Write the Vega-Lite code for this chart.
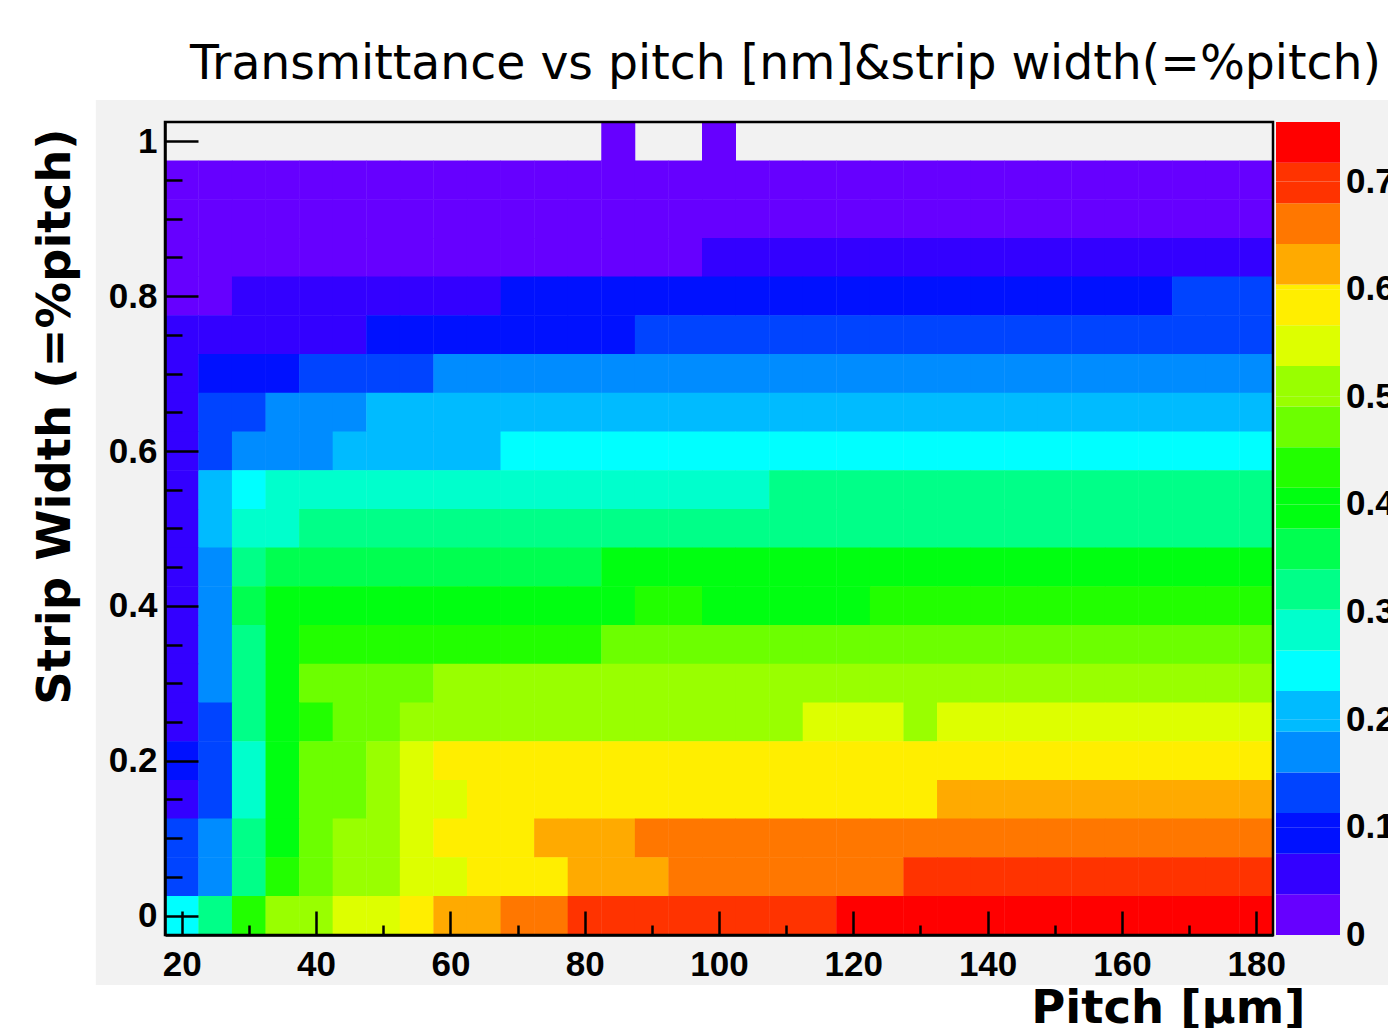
{
"$schema": "https://vega.github.io/schema/vega-lite/v6.json",
"width": 1108, "height": 813,
"autosize": {"type": "none"},
"padding": {"left": 165, "top": 122, "right": 115, "bottom": 93},
"background": "white",
"title": {"text": "Transmittance vs pitch [nm]&strip width(=%pitch)", "font": "DejaVu Sans", "fontSize": 47.3, "fontWeight": "normal", "color": "black", "anchor": "start", "frame": "group", "dx": 25, "offset": 11},
"config": {
  "view": {"stroke": null},
  "axis": {"domainColor": "black", "domainWidth": 2.5, "tickColor": "black", "tickWidth": 2.5, "grid": false, "labelColor": "black", "labelFont": "Liberation Sans", "labelFontWeight": "bold", "labelFlush": false, "labelBound": false, "labelOverlap": false, "titleColor": "black", "titleFont": "DejaVu Sans", "titleFontWeight": "bold", "titleFontSize": 46.5, "zindex": 1}
},
"layer": [
{"data": {"values": [{}]}, "mark": {"type": "rect", "color": "#f2f2f2", "clip": false},
 "encoding": {"x": {"datum": 7.2, "type": "quantitative"}, "x2": {"datum": 205}, "y": {"datum": -0.0895, "type": "quantitative"}, "y2": {"datum": 1.0534}}},
{"data": {"values": [
{"pitch":85,"width":1,"T":0.006},{"pitch":100,"width":1,"T":0.006},
{"pitch":20,"width":0.95,"T":0.012},{"pitch":25,"width":0.95,"T":0.012},{"pitch":30,"width":0.95,"T":0.012},{"pitch":35,"width":0.95,"T":0.012},{"pitch":40,"width":0.95,"T":0.012},{"pitch":45,"width":0.95,"T":0.012},{"pitch":50,"width":0.95,"T":0.012},{"pitch":55,"width":0.95,"T":0.012},{"pitch":60,"width":0.95,"T":0.012},{"pitch":65,"width":0.95,"T":0.012},{"pitch":70,"width":0.95,"T":0.012},{"pitch":75,"width":0.95,"T":0.012},{"pitch":80,"width":0.95,"T":0.012},{"pitch":85,"width":0.95,"T":0.012},{"pitch":90,"width":0.95,"T":0.012},{"pitch":95,"width":0.95,"T":0.012},{"pitch":100,"width":0.95,"T":0.012},{"pitch":105,"width":0.95,"T":0.012},{"pitch":110,"width":0.95,"T":0.012},{"pitch":115,"width":0.95,"T":0.012},{"pitch":120,"width":0.95,"T":0.012},{"pitch":125,"width":0.95,"T":0.012},{"pitch":130,"width":0.95,"T":0.012},{"pitch":135,"width":0.95,"T":0.012},{"pitch":140,"width":0.95,"T":0.012},{"pitch":145,"width":0.95,"T":0.012},{"pitch":150,"width":0.95,"T":0.012},{"pitch":155,"width":0.95,"T":0.012},{"pitch":160,"width":0.95,"T":0.012},{"pitch":165,"width":0.95,"T":0.012},{"pitch":170,"width":0.95,"T":0.012},{"pitch":175,"width":0.95,"T":0.012},{"pitch":180,"width":0.95,"T":0.012},
{"pitch":20,"width":0.9,"T":0.024},{"pitch":25,"width":0.9,"T":0.024},{"pitch":30,"width":0.9,"T":0.024},{"pitch":35,"width":0.9,"T":0.024},{"pitch":40,"width":0.9,"T":0.024},{"pitch":45,"width":0.9,"T":0.024},{"pitch":50,"width":0.9,"T":0.024},{"pitch":55,"width":0.9,"T":0.024},{"pitch":60,"width":0.9,"T":0.024},{"pitch":65,"width":0.9,"T":0.024},{"pitch":70,"width":0.9,"T":0.024},{"pitch":75,"width":0.9,"T":0.024},{"pitch":80,"width":0.9,"T":0.024},{"pitch":85,"width":0.9,"T":0.024},{"pitch":90,"width":0.9,"T":0.024},{"pitch":95,"width":0.9,"T":0.024},{"pitch":100,"width":0.9,"T":0.024},{"pitch":105,"width":0.9,"T":0.024},{"pitch":110,"width":0.9,"T":0.024},{"pitch":115,"width":0.9,"T":0.024},{"pitch":120,"width":0.9,"T":0.024},{"pitch":125,"width":0.9,"T":0.024},{"pitch":130,"width":0.9,"T":0.024},{"pitch":135,"width":0.9,"T":0.024},{"pitch":140,"width":0.9,"T":0.024},{"pitch":145,"width":0.9,"T":0.024},{"pitch":150,"width":0.9,"T":0.024},{"pitch":155,"width":0.9,"T":0.024},{"pitch":160,"width":0.9,"T":0.024},{"pitch":165,"width":0.9,"T":0.024},{"pitch":170,"width":0.9,"T":0.024},{"pitch":175,"width":0.9,"T":0.024},{"pitch":180,"width":0.9,"T":0.024},
{"pitch":20,"width":0.85,"T":0.033},{"pitch":25,"width":0.85,"T":0.033},{"pitch":30,"width":0.85,"T":0.033},{"pitch":35,"width":0.85,"T":0.033},{"pitch":40,"width":0.85,"T":0.033},{"pitch":45,"width":0.85,"T":0.033},{"pitch":50,"width":0.85,"T":0.033},{"pitch":55,"width":0.85,"T":0.033},{"pitch":60,"width":0.85,"T":0.033},{"pitch":65,"width":0.85,"T":0.033},{"pitch":70,"width":0.85,"T":0.033},{"pitch":75,"width":0.85,"T":0.033},{"pitch":80,"width":0.85,"T":0.033},{"pitch":85,"width":0.85,"T":0.033},{"pitch":90,"width":0.85,"T":0.033},{"pitch":95,"width":0.85,"T":0.033},{"pitch":100,"width":0.85,"T":0.045},{"pitch":105,"width":0.85,"T":0.045},{"pitch":110,"width":0.85,"T":0.045},{"pitch":115,"width":0.85,"T":0.045},{"pitch":120,"width":0.85,"T":0.045},{"pitch":125,"width":0.85,"T":0.045},{"pitch":130,"width":0.85,"T":0.045},{"pitch":135,"width":0.85,"T":0.045},{"pitch":140,"width":0.85,"T":0.045},{"pitch":145,"width":0.85,"T":0.045},{"pitch":150,"width":0.85,"T":0.045},{"pitch":155,"width":0.85,"T":0.045},{"pitch":160,"width":0.85,"T":0.045},{"pitch":165,"width":0.85,"T":0.045},{"pitch":170,"width":0.85,"T":0.045},{"pitch":175,"width":0.85,"T":0.045},{"pitch":180,"width":0.85,"T":0.045},
{"pitch":20,"width":0.8,"T":0.035},{"pitch":25,"width":0.8,"T":0.035},{"pitch":30,"width":0.8,"T":0.0567},{"pitch":35,"width":0.8,"T":0.0567},{"pitch":40,"width":0.8,"T":0.0567},{"pitch":45,"width":0.8,"T":0.0567},{"pitch":50,"width":0.8,"T":0.0567},{"pitch":55,"width":0.8,"T":0.0567},{"pitch":60,"width":0.8,"T":0.0567},{"pitch":65,"width":0.8,"T":0.0567},{"pitch":70,"width":0.8,"T":0.0944},{"pitch":75,"width":0.8,"T":0.0944},{"pitch":80,"width":0.8,"T":0.0944},{"pitch":85,"width":0.8,"T":0.0944},{"pitch":90,"width":0.8,"T":0.0944},{"pitch":95,"width":0.8,"T":0.0944},{"pitch":100,"width":0.8,"T":0.0944},{"pitch":105,"width":0.8,"T":0.0944},{"pitch":110,"width":0.8,"T":0.0944},{"pitch":115,"width":0.8,"T":0.0944},{"pitch":120,"width":0.8,"T":0.0944},{"pitch":125,"width":0.8,"T":0.0944},{"pitch":130,"width":0.8,"T":0.0944},{"pitch":135,"width":0.8,"T":0.0944},{"pitch":140,"width":0.8,"T":0.0944},{"pitch":145,"width":0.8,"T":0.0944},{"pitch":150,"width":0.8,"T":0.0944},{"pitch":155,"width":0.8,"T":0.0944},{"pitch":160,"width":0.8,"T":0.0944},{"pitch":165,"width":0.8,"T":0.0944},{"pitch":170,"width":0.8,"T":0.1322},{"pitch":175,"width":0.8,"T":0.1322},{"pitch":180,"width":0.8,"T":0.1322},
{"pitch":20,"width":0.75,"T":0.0567},{"pitch":25,"width":0.75,"T":0.0567},{"pitch":30,"width":0.75,"T":0.0567},{"pitch":35,"width":0.75,"T":0.0567},{"pitch":40,"width":0.75,"T":0.0567},{"pitch":45,"width":0.75,"T":0.0567},{"pitch":50,"width":0.75,"T":0.0944},{"pitch":55,"width":0.75,"T":0.0944},{"pitch":60,"width":0.75,"T":0.0944},{"pitch":65,"width":0.75,"T":0.0944},{"pitch":70,"width":0.75,"T":0.0944},{"pitch":75,"width":0.75,"T":0.0944},{"pitch":80,"width":0.75,"T":0.0944},{"pitch":85,"width":0.75,"T":0.0944},{"pitch":90,"width":0.75,"T":0.1322},{"pitch":95,"width":0.75,"T":0.1322},{"pitch":100,"width":0.75,"T":0.1322},{"pitch":105,"width":0.75,"T":0.1322},{"pitch":110,"width":0.75,"T":0.1322},{"pitch":115,"width":0.75,"T":0.1322},{"pitch":120,"width":0.75,"T":0.1322},{"pitch":125,"width":0.75,"T":0.1322},{"pitch":130,"width":0.75,"T":0.1322},{"pitch":135,"width":0.75,"T":0.1322},{"pitch":140,"width":0.75,"T":0.1322},{"pitch":145,"width":0.75,"T":0.1322},{"pitch":150,"width":0.75,"T":0.1322},{"pitch":155,"width":0.75,"T":0.1322},{"pitch":160,"width":0.75,"T":0.1322},{"pitch":165,"width":0.75,"T":0.1322},{"pitch":170,"width":0.75,"T":0.1322},{"pitch":175,"width":0.75,"T":0.1322},{"pitch":180,"width":0.75,"T":0.1322},
{"pitch":20,"width":0.7,"T":0.0567},{"pitch":25,"width":0.7,"T":0.0944},{"pitch":30,"width":0.7,"T":0.0944},{"pitch":35,"width":0.7,"T":0.0944},{"pitch":40,"width":0.7,"T":0.1322},{"pitch":45,"width":0.7,"T":0.1322},{"pitch":50,"width":0.7,"T":0.1322},{"pitch":55,"width":0.7,"T":0.1322},{"pitch":60,"width":0.7,"T":0.17},{"pitch":65,"width":0.7,"T":0.17},{"pitch":70,"width":0.7,"T":0.17},{"pitch":75,"width":0.7,"T":0.17},{"pitch":80,"width":0.7,"T":0.17},{"pitch":85,"width":0.7,"T":0.17},{"pitch":90,"width":0.7,"T":0.17},{"pitch":95,"width":0.7,"T":0.17},{"pitch":100,"width":0.7,"T":0.17},{"pitch":105,"width":0.7,"T":0.17},{"pitch":110,"width":0.7,"T":0.17},{"pitch":115,"width":0.7,"T":0.17},{"pitch":120,"width":0.7,"T":0.17},{"pitch":125,"width":0.7,"T":0.17},{"pitch":130,"width":0.7,"T":0.17},{"pitch":135,"width":0.7,"T":0.17},{"pitch":140,"width":0.7,"T":0.17},{"pitch":145,"width":0.7,"T":0.17},{"pitch":150,"width":0.7,"T":0.17},{"pitch":155,"width":0.7,"T":0.17},{"pitch":160,"width":0.7,"T":0.17},{"pitch":165,"width":0.7,"T":0.17},{"pitch":170,"width":0.7,"T":0.17},{"pitch":175,"width":0.7,"T":0.17},{"pitch":180,"width":0.7,"T":0.17},
{"pitch":20,"width":0.65,"T":0.0567},{"pitch":25,"width":0.65,"T":0.1322},{"pitch":30,"width":0.65,"T":0.1322},{"pitch":35,"width":0.65,"T":0.17},{"pitch":40,"width":0.65,"T":0.17},{"pitch":45,"width":0.65,"T":0.17},{"pitch":50,"width":0.65,"T":0.2077},{"pitch":55,"width":0.65,"T":0.2077},{"pitch":60,"width":0.65,"T":0.2077},{"pitch":65,"width":0.65,"T":0.2077},{"pitch":70,"width":0.65,"T":0.2077},{"pitch":75,"width":0.65,"T":0.2077},{"pitch":80,"width":0.65,"T":0.2077},{"pitch":85,"width":0.65,"T":0.2077},{"pitch":90,"width":0.65,"T":0.2077},{"pitch":95,"width":0.65,"T":0.2077},{"pitch":100,"width":0.65,"T":0.2077},{"pitch":105,"width":0.65,"T":0.2077},{"pitch":110,"width":0.65,"T":0.2077},{"pitch":115,"width":0.65,"T":0.2077},{"pitch":120,"width":0.65,"T":0.2077},{"pitch":125,"width":0.65,"T":0.2077},{"pitch":130,"width":0.65,"T":0.2077},{"pitch":135,"width":0.65,"T":0.2077},{"pitch":140,"width":0.65,"T":0.2077},{"pitch":145,"width":0.65,"T":0.2077},{"pitch":150,"width":0.65,"T":0.2077},{"pitch":155,"width":0.65,"T":0.2077},{"pitch":160,"width":0.65,"T":0.2077},{"pitch":165,"width":0.65,"T":0.2077},{"pitch":170,"width":0.65,"T":0.2077},{"pitch":175,"width":0.65,"T":0.2077},{"pitch":180,"width":0.65,"T":0.2077},
{"pitch":20,"width":0.6,"T":0.0567},{"pitch":25,"width":0.6,"T":0.1322},{"pitch":30,"width":0.6,"T":0.17},{"pitch":35,"width":0.6,"T":0.17},{"pitch":40,"width":0.6,"T":0.17},{"pitch":45,"width":0.6,"T":0.2077},{"pitch":50,"width":0.6,"T":0.2077},{"pitch":55,"width":0.6,"T":0.2077},{"pitch":60,"width":0.6,"T":0.2077},{"pitch":65,"width":0.6,"T":0.2077},{"pitch":70,"width":0.6,"T":0.2455},{"pitch":75,"width":0.6,"T":0.2455},{"pitch":80,"width":0.6,"T":0.2455},{"pitch":85,"width":0.6,"T":0.2455},{"pitch":90,"width":0.6,"T":0.2455},{"pitch":95,"width":0.6,"T":0.2455},{"pitch":100,"width":0.6,"T":0.2455},{"pitch":105,"width":0.6,"T":0.2455},{"pitch":110,"width":0.6,"T":0.2455},{"pitch":115,"width":0.6,"T":0.2455},{"pitch":120,"width":0.6,"T":0.2455},{"pitch":125,"width":0.6,"T":0.2455},{"pitch":130,"width":0.6,"T":0.2455},{"pitch":135,"width":0.6,"T":0.2455},{"pitch":140,"width":0.6,"T":0.2455},{"pitch":145,"width":0.6,"T":0.2455},{"pitch":150,"width":0.6,"T":0.2455},{"pitch":155,"width":0.6,"T":0.2455},{"pitch":160,"width":0.6,"T":0.2455},{"pitch":165,"width":0.6,"T":0.2455},{"pitch":170,"width":0.6,"T":0.2455},{"pitch":175,"width":0.6,"T":0.2455},{"pitch":180,"width":0.6,"T":0.2455},
{"pitch":20,"width":0.55,"T":0.0567},{"pitch":25,"width":0.55,"T":0.2077},{"pitch":30,"width":0.55,"T":0.2455},{"pitch":35,"width":0.55,"T":0.2833},{"pitch":40,"width":0.55,"T":0.2833},{"pitch":45,"width":0.55,"T":0.2833},{"pitch":50,"width":0.55,"T":0.2833},{"pitch":55,"width":0.55,"T":0.2833},{"pitch":60,"width":0.55,"T":0.2833},{"pitch":65,"width":0.55,"T":0.2833},{"pitch":70,"width":0.55,"T":0.2833},{"pitch":75,"width":0.55,"T":0.2833},{"pitch":80,"width":0.55,"T":0.2833},{"pitch":85,"width":0.55,"T":0.2833},{"pitch":90,"width":0.55,"T":0.2833},{"pitch":95,"width":0.55,"T":0.2833},{"pitch":100,"width":0.55,"T":0.2833},{"pitch":105,"width":0.55,"T":0.2833},{"pitch":110,"width":0.55,"T":0.321},{"pitch":115,"width":0.55,"T":0.321},{"pitch":120,"width":0.55,"T":0.321},{"pitch":125,"width":0.55,"T":0.321},{"pitch":130,"width":0.55,"T":0.321},{"pitch":135,"width":0.55,"T":0.321},{"pitch":140,"width":0.55,"T":0.321},{"pitch":145,"width":0.55,"T":0.321},{"pitch":150,"width":0.55,"T":0.321},{"pitch":155,"width":0.55,"T":0.321},{"pitch":160,"width":0.55,"T":0.321},{"pitch":165,"width":0.55,"T":0.321},{"pitch":170,"width":0.55,"T":0.321},{"pitch":175,"width":0.55,"T":0.321},{"pitch":180,"width":0.55,"T":0.321},
{"pitch":20,"width":0.5,"T":0.0567},{"pitch":25,"width":0.5,"T":0.2077},{"pitch":30,"width":0.5,"T":0.2833},{"pitch":35,"width":0.5,"T":0.2833},{"pitch":40,"width":0.5,"T":0.321},{"pitch":45,"width":0.5,"T":0.321},{"pitch":50,"width":0.5,"T":0.321},{"pitch":55,"width":0.5,"T":0.321},{"pitch":60,"width":0.5,"T":0.321},{"pitch":65,"width":0.5,"T":0.321},{"pitch":70,"width":0.5,"T":0.321},{"pitch":75,"width":0.5,"T":0.321},{"pitch":80,"width":0.5,"T":0.321},{"pitch":85,"width":0.5,"T":0.321},{"pitch":90,"width":0.5,"T":0.321},{"pitch":95,"width":0.5,"T":0.321},{"pitch":100,"width":0.5,"T":0.321},{"pitch":105,"width":0.5,"T":0.321},{"pitch":110,"width":0.5,"T":0.321},{"pitch":115,"width":0.5,"T":0.321},{"pitch":120,"width":0.5,"T":0.321},{"pitch":125,"width":0.5,"T":0.321},{"pitch":130,"width":0.5,"T":0.321},{"pitch":135,"width":0.5,"T":0.321},{"pitch":140,"width":0.5,"T":0.321},{"pitch":145,"width":0.5,"T":0.321},{"pitch":150,"width":0.5,"T":0.321},{"pitch":155,"width":0.5,"T":0.321},{"pitch":160,"width":0.5,"T":0.321},{"pitch":165,"width":0.5,"T":0.321},{"pitch":170,"width":0.5,"T":0.321},{"pitch":175,"width":0.5,"T":0.321},{"pitch":180,"width":0.5,"T":0.321},
{"pitch":20,"width":0.45,"T":0.0567},{"pitch":25,"width":0.45,"T":0.17},{"pitch":30,"width":0.45,"T":0.321},{"pitch":35,"width":0.45,"T":0.3588},{"pitch":40,"width":0.45,"T":0.3588},{"pitch":45,"width":0.45,"T":0.3588},{"pitch":50,"width":0.45,"T":0.3588},{"pitch":55,"width":0.45,"T":0.3588},{"pitch":60,"width":0.45,"T":0.3588},{"pitch":65,"width":0.45,"T":0.3588},{"pitch":70,"width":0.45,"T":0.3588},{"pitch":75,"width":0.45,"T":0.3588},{"pitch":80,"width":0.45,"T":0.3588},{"pitch":85,"width":0.45,"T":0.3966},{"pitch":90,"width":0.45,"T":0.3966},{"pitch":95,"width":0.45,"T":0.3966},{"pitch":100,"width":0.45,"T":0.3966},{"pitch":105,"width":0.45,"T":0.3966},{"pitch":110,"width":0.45,"T":0.3966},{"pitch":115,"width":0.45,"T":0.3966},{"pitch":120,"width":0.45,"T":0.3966},{"pitch":125,"width":0.45,"T":0.3966},{"pitch":130,"width":0.45,"T":0.3966},{"pitch":135,"width":0.45,"T":0.3966},{"pitch":140,"width":0.45,"T":0.3966},{"pitch":145,"width":0.45,"T":0.3966},{"pitch":150,"width":0.45,"T":0.3966},{"pitch":155,"width":0.45,"T":0.3966},{"pitch":160,"width":0.45,"T":0.3966},{"pitch":165,"width":0.45,"T":0.3966},{"pitch":170,"width":0.45,"T":0.3966},{"pitch":175,"width":0.45,"T":0.3966},{"pitch":180,"width":0.45,"T":0.3966},
{"pitch":20,"width":0.4,"T":0.0567},{"pitch":25,"width":0.4,"T":0.17},{"pitch":30,"width":0.4,"T":0.3588},{"pitch":35,"width":0.4,"T":0.3966},{"pitch":40,"width":0.4,"T":0.3966},{"pitch":45,"width":0.4,"T":0.3966},{"pitch":50,"width":0.4,"T":0.3966},{"pitch":55,"width":0.4,"T":0.3966},{"pitch":60,"width":0.4,"T":0.3966},{"pitch":65,"width":0.4,"T":0.3966},{"pitch":70,"width":0.4,"T":0.3966},{"pitch":75,"width":0.4,"T":0.3966},{"pitch":80,"width":0.4,"T":0.3966},{"pitch":85,"width":0.4,"T":0.3966},{"pitch":90,"width":0.4,"T":0.4344},{"pitch":95,"width":0.4,"T":0.4344},{"pitch":100,"width":0.4,"T":0.3966},{"pitch":105,"width":0.4,"T":0.3966},{"pitch":110,"width":0.4,"T":0.3966},{"pitch":115,"width":0.4,"T":0.3966},{"pitch":120,"width":0.4,"T":0.3966},{"pitch":125,"width":0.4,"T":0.4344},{"pitch":130,"width":0.4,"T":0.4344},{"pitch":135,"width":0.4,"T":0.4344},{"pitch":140,"width":0.4,"T":0.4344},{"pitch":145,"width":0.4,"T":0.4344},{"pitch":150,"width":0.4,"T":0.4344},{"pitch":155,"width":0.4,"T":0.4344},{"pitch":160,"width":0.4,"T":0.4344},{"pitch":165,"width":0.4,"T":0.4344},{"pitch":170,"width":0.4,"T":0.4344},{"pitch":175,"width":0.4,"T":0.4344},{"pitch":180,"width":0.4,"T":0.4344},
{"pitch":20,"width":0.35,"T":0.0567},{"pitch":25,"width":0.35,"T":0.17},{"pitch":30,"width":0.35,"T":0.321},{"pitch":35,"width":0.35,"T":0.3966},{"pitch":40,"width":0.35,"T":0.4344},{"pitch":45,"width":0.35,"T":0.4344},{"pitch":50,"width":0.35,"T":0.4344},{"pitch":55,"width":0.35,"T":0.4344},{"pitch":60,"width":0.35,"T":0.4344},{"pitch":65,"width":0.35,"T":0.4344},{"pitch":70,"width":0.35,"T":0.4344},{"pitch":75,"width":0.35,"T":0.4344},{"pitch":80,"width":0.35,"T":0.4344},{"pitch":85,"width":0.35,"T":0.4721},{"pitch":90,"width":0.35,"T":0.4721},{"pitch":95,"width":0.35,"T":0.4721},{"pitch":100,"width":0.35,"T":0.4721},{"pitch":105,"width":0.35,"T":0.4721},{"pitch":110,"width":0.35,"T":0.4721},{"pitch":115,"width":0.35,"T":0.4721},{"pitch":120,"width":0.35,"T":0.4721},{"pitch":125,"width":0.35,"T":0.4721},{"pitch":130,"width":0.35,"T":0.4721},{"pitch":135,"width":0.35,"T":0.4721},{"pitch":140,"width":0.35,"T":0.4721},{"pitch":145,"width":0.35,"T":0.4721},{"pitch":150,"width":0.35,"T":0.4721},{"pitch":155,"width":0.35,"T":0.4721},{"pitch":160,"width":0.35,"T":0.4721},{"pitch":165,"width":0.35,"T":0.4721},{"pitch":170,"width":0.35,"T":0.4721},{"pitch":175,"width":0.35,"T":0.4721},{"pitch":180,"width":0.35,"T":0.4721},
{"pitch":20,"width":0.3,"T":0.0567},{"pitch":25,"width":0.3,"T":0.17},{"pitch":30,"width":0.3,"T":0.321},{"pitch":35,"width":0.3,"T":0.3966},{"pitch":40,"width":0.3,"T":0.4721},{"pitch":45,"width":0.3,"T":0.4721},{"pitch":50,"width":0.3,"T":0.4721},{"pitch":55,"width":0.3,"T":0.4721},{"pitch":60,"width":0.3,"T":0.5099},{"pitch":65,"width":0.3,"T":0.5099},{"pitch":70,"width":0.3,"T":0.5099},{"pitch":75,"width":0.3,"T":0.5099},{"pitch":80,"width":0.3,"T":0.5099},{"pitch":85,"width":0.3,"T":0.5099},{"pitch":90,"width":0.3,"T":0.5099},{"pitch":95,"width":0.3,"T":0.5099},{"pitch":100,"width":0.3,"T":0.5099},{"pitch":105,"width":0.3,"T":0.5099},{"pitch":110,"width":0.3,"T":0.5099},{"pitch":115,"width":0.3,"T":0.5099},{"pitch":120,"width":0.3,"T":0.5099},{"pitch":125,"width":0.3,"T":0.5099},{"pitch":130,"width":0.3,"T":0.5099},{"pitch":135,"width":0.3,"T":0.5099},{"pitch":140,"width":0.3,"T":0.5099},{"pitch":145,"width":0.3,"T":0.5099},{"pitch":150,"width":0.3,"T":0.5099},{"pitch":155,"width":0.3,"T":0.5099},{"pitch":160,"width":0.3,"T":0.5099},{"pitch":165,"width":0.3,"T":0.5099},{"pitch":170,"width":0.3,"T":0.5099},{"pitch":175,"width":0.3,"T":0.5099},{"pitch":180,"width":0.3,"T":0.5099},
{"pitch":20,"width":0.25,"T":0.0567},{"pitch":25,"width":0.25,"T":0.1322},{"pitch":30,"width":0.25,"T":0.321},{"pitch":35,"width":0.25,"T":0.3966},{"pitch":40,"width":0.25,"T":0.4344},{"pitch":45,"width":0.25,"T":0.4721},{"pitch":50,"width":0.25,"T":0.4721},{"pitch":55,"width":0.25,"T":0.5099},{"pitch":60,"width":0.25,"T":0.5099},{"pitch":65,"width":0.25,"T":0.5099},{"pitch":70,"width":0.25,"T":0.5099},{"pitch":75,"width":0.25,"T":0.5099},{"pitch":80,"width":0.25,"T":0.5099},{"pitch":85,"width":0.25,"T":0.5099},{"pitch":90,"width":0.25,"T":0.5099},{"pitch":95,"width":0.25,"T":0.5099},{"pitch":100,"width":0.25,"T":0.5099},{"pitch":105,"width":0.25,"T":0.5099},{"pitch":110,"width":0.25,"T":0.5099},{"pitch":115,"width":0.25,"T":0.5477},{"pitch":120,"width":0.25,"T":0.5477},{"pitch":125,"width":0.25,"T":0.5477},{"pitch":130,"width":0.25,"T":0.5099},{"pitch":135,"width":0.25,"T":0.5477},{"pitch":140,"width":0.25,"T":0.5477},{"pitch":145,"width":0.25,"T":0.5477},{"pitch":150,"width":0.25,"T":0.5477},{"pitch":155,"width":0.25,"T":0.5477},{"pitch":160,"width":0.25,"T":0.5477},{"pitch":165,"width":0.25,"T":0.5477},{"pitch":170,"width":0.25,"T":0.5477},{"pitch":175,"width":0.25,"T":0.5477},{"pitch":180,"width":0.25,"T":0.5477},
{"pitch":20,"width":0.2,"T":0.0944},{"pitch":25,"width":0.2,"T":0.1322},{"pitch":30,"width":0.2,"T":0.2833},{"pitch":35,"width":0.2,"T":0.3966},{"pitch":40,"width":0.2,"T":0.4721},{"pitch":45,"width":0.2,"T":0.4721},{"pitch":50,"width":0.2,"T":0.5099},{"pitch":55,"width":0.2,"T":0.5477},{"pitch":60,"width":0.2,"T":0.5854},{"pitch":65,"width":0.2,"T":0.5854},{"pitch":70,"width":0.2,"T":0.5854},{"pitch":75,"width":0.2,"T":0.5854},{"pitch":80,"width":0.2,"T":0.5854},{"pitch":85,"width":0.2,"T":0.5854},{"pitch":90,"width":0.2,"T":0.5854},{"pitch":95,"width":0.2,"T":0.5854},{"pitch":100,"width":0.2,"T":0.5854},{"pitch":105,"width":0.2,"T":0.5854},{"pitch":110,"width":0.2,"T":0.5854},{"pitch":115,"width":0.2,"T":0.5854},{"pitch":120,"width":0.2,"T":0.5854},{"pitch":125,"width":0.2,"T":0.5854},{"pitch":130,"width":0.2,"T":0.5854},{"pitch":135,"width":0.2,"T":0.5854},{"pitch":140,"width":0.2,"T":0.5854},{"pitch":145,"width":0.2,"T":0.5854},{"pitch":150,"width":0.2,"T":0.5854},{"pitch":155,"width":0.2,"T":0.5854},{"pitch":160,"width":0.2,"T":0.5854},{"pitch":165,"width":0.2,"T":0.5854},{"pitch":170,"width":0.2,"T":0.5854},{"pitch":175,"width":0.2,"T":0.5854},{"pitch":180,"width":0.2,"T":0.5854},
{"pitch":20,"width":0.15,"T":0.0567},{"pitch":25,"width":0.15,"T":0.1322},{"pitch":30,"width":0.15,"T":0.2833},{"pitch":35,"width":0.15,"T":0.3966},{"pitch":40,"width":0.15,"T":0.4721},{"pitch":45,"width":0.15,"T":0.4721},{"pitch":50,"width":0.15,"T":0.5099},{"pitch":55,"width":0.15,"T":0.5477},{"pitch":60,"width":0.15,"T":0.5477},{"pitch":65,"width":0.15,"T":0.5854},{"pitch":70,"width":0.15,"T":0.5854},{"pitch":75,"width":0.15,"T":0.5854},{"pitch":80,"width":0.15,"T":0.5854},{"pitch":85,"width":0.15,"T":0.5854},{"pitch":90,"width":0.15,"T":0.5854},{"pitch":95,"width":0.15,"T":0.5854},{"pitch":100,"width":0.15,"T":0.5854},{"pitch":105,"width":0.15,"T":0.5854},{"pitch":110,"width":0.15,"T":0.5854},{"pitch":115,"width":0.15,"T":0.5854},{"pitch":120,"width":0.15,"T":0.5854},{"pitch":125,"width":0.15,"T":0.5854},{"pitch":130,"width":0.15,"T":0.5854},{"pitch":135,"width":0.15,"T":0.6232},{"pitch":140,"width":0.15,"T":0.6232},{"pitch":145,"width":0.15,"T":0.6232},{"pitch":150,"width":0.15,"T":0.6232},{"pitch":155,"width":0.15,"T":0.6232},{"pitch":160,"width":0.15,"T":0.6232},{"pitch":165,"width":0.15,"T":0.6232},{"pitch":170,"width":0.15,"T":0.6232},{"pitch":175,"width":0.15,"T":0.6232},{"pitch":180,"width":0.15,"T":0.6232},
{"pitch":20,"width":0.1,"T":0.1322},{"pitch":25,"width":0.1,"T":0.17},{"pitch":30,"width":0.1,"T":0.321},{"pitch":35,"width":0.1,"T":0.3966},{"pitch":40,"width":0.1,"T":0.4721},{"pitch":45,"width":0.1,"T":0.5099},{"pitch":50,"width":0.1,"T":0.5099},{"pitch":55,"width":0.1,"T":0.5477},{"pitch":60,"width":0.1,"T":0.5854},{"pitch":65,"width":0.1,"T":0.5854},{"pitch":70,"width":0.1,"T":0.5854},{"pitch":75,"width":0.1,"T":0.6232},{"pitch":80,"width":0.1,"T":0.6232},{"pitch":85,"width":0.1,"T":0.6232},{"pitch":90,"width":0.1,"T":0.661},{"pitch":95,"width":0.1,"T":0.661},{"pitch":100,"width":0.1,"T":0.661},{"pitch":105,"width":0.1,"T":0.661},{"pitch":110,"width":0.1,"T":0.661},{"pitch":115,"width":0.1,"T":0.661},{"pitch":120,"width":0.1,"T":0.661},{"pitch":125,"width":0.1,"T":0.661},{"pitch":130,"width":0.1,"T":0.661},{"pitch":135,"width":0.1,"T":0.661},{"pitch":140,"width":0.1,"T":0.661},{"pitch":145,"width":0.1,"T":0.661},{"pitch":150,"width":0.1,"T":0.661},{"pitch":155,"width":0.1,"T":0.661},{"pitch":160,"width":0.1,"T":0.661},{"pitch":165,"width":0.1,"T":0.661},{"pitch":170,"width":0.1,"T":0.661},{"pitch":175,"width":0.1,"T":0.661},{"pitch":180,"width":0.1,"T":0.661},
{"pitch":20,"width":0.05,"T":0.1322},{"pitch":25,"width":0.05,"T":0.17},{"pitch":30,"width":0.05,"T":0.321},{"pitch":35,"width":0.05,"T":0.4344},{"pitch":40,"width":0.05,"T":0.4721},{"pitch":45,"width":0.05,"T":0.5099},{"pitch":50,"width":0.05,"T":0.5099},{"pitch":55,"width":0.05,"T":0.5477},{"pitch":60,"width":0.05,"T":0.5477},{"pitch":65,"width":0.05,"T":0.5854},{"pitch":70,"width":0.05,"T":0.5854},{"pitch":75,"width":0.05,"T":0.5854},{"pitch":80,"width":0.05,"T":0.6232},{"pitch":85,"width":0.05,"T":0.6232},{"pitch":90,"width":0.05,"T":0.6232},{"pitch":95,"width":0.05,"T":0.661},{"pitch":100,"width":0.05,"T":0.661},{"pitch":105,"width":0.05,"T":0.661},{"pitch":110,"width":0.05,"T":0.661},{"pitch":115,"width":0.05,"T":0.661},{"pitch":120,"width":0.05,"T":0.661},{"pitch":125,"width":0.05,"T":0.661},{"pitch":130,"width":0.05,"T":0.6987},{"pitch":135,"width":0.05,"T":0.6987},{"pitch":140,"width":0.05,"T":0.6987},{"pitch":145,"width":0.05,"T":0.6987},{"pitch":150,"width":0.05,"T":0.6987},{"pitch":155,"width":0.05,"T":0.6987},{"pitch":160,"width":0.05,"T":0.6987},{"pitch":165,"width":0.05,"T":0.6987},{"pitch":170,"width":0.05,"T":0.6987},{"pitch":175,"width":0.05,"T":0.6987},{"pitch":180,"width":0.05,"T":0.6987},
{"pitch":20,"width":0,"T":0.2455},{"pitch":25,"width":0,"T":0.321},{"pitch":30,"width":0,"T":0.4344},{"pitch":35,"width":0,"T":0.5099},{"pitch":40,"width":0,"T":0.5099},{"pitch":45,"width":0,"T":0.5477},{"pitch":50,"width":0,"T":0.5477},{"pitch":55,"width":0,"T":0.5854},{"pitch":60,"width":0,"T":0.6232},{"pitch":65,"width":0,"T":0.6232},{"pitch":70,"width":0,"T":0.661},{"pitch":75,"width":0,"T":0.661},{"pitch":80,"width":0,"T":0.6987},{"pitch":85,"width":0,"T":0.6987},{"pitch":90,"width":0,"T":0.6987},{"pitch":95,"width":0,"T":0.6987},{"pitch":100,"width":0,"T":0.6987},{"pitch":105,"width":0,"T":0.6987},{"pitch":110,"width":0,"T":0.6987},{"pitch":115,"width":0,"T":0.6987},{"pitch":120,"width":0,"T":0.7365},{"pitch":125,"width":0,"T":0.7365},{"pitch":130,"width":0,"T":0.7365},{"pitch":135,"width":0,"T":0.7365},{"pitch":140,"width":0,"T":0.7365},{"pitch":145,"width":0,"T":0.7365},{"pitch":150,"width":0,"T":0.7365},{"pitch":155,"width":0,"T":0.7365},{"pitch":160,"width":0,"T":0.7365},{"pitch":165,"width":0,"T":0.7365},{"pitch":170,"width":0,"T":0.7365},{"pitch":175,"width":0,"T":0.7365},{"pitch":180,"width":0,"T":0.7365}
]},
 "mark": {"type": "rect", "width": 34, "height": 39.2},
 "encoding": {
  "x": {"field": "pitch", "type": "quantitative", "scale": {"domain": [17.5, 182.5], "nice": false, "zero": false},
    "axis": {"title": "Pitch [µm]", "zindex": 2, "values": [20,25,30,35,40,45,50,55,60,65,70,75,80,85,90,95,100,105,110,115,120,125,130,135,140,145,150,155,160,165,170,175,180],
      "labelExpr": "datum.value % 20 === 0 ? datum.label : ''", "labelFontSize": 35, "labelPadding": 36,
      "tickSize": {"condition": {"test": "datum.value % 20 === 0", "value": -24}, "value": -10},
      "titleAlign": "right", "titleBaseline": "alphabetic", "titleX": 1140, "titleY": 87, "titleAnchor": "end"}},
  "y": {"field": "width", "type": "quantitative", "scale": {"domain": [-0.025, 1.025], "nice": false, "zero": false},
    "axis": {"title": "Strip Width (=%pitch)", "zindex": 2, "values": [0,0.05,0.1,0.15,0.2,0.25,0.3,0.35,0.4,0.45,0.5,0.55,0.6,0.65,0.7,0.75,0.8,0.85,0.9,0.95,1],
      "format": "~g", "labelExpr": "abs(datum.value * 5 - round(datum.value * 5)) < 0.001 ? datum.label : ''", "labelFontSize": 35, "labelPadding": 41,
      "tickSize": {"condition": {"test": "abs(datum.value * 5 - round(datum.value * 5)) < 0.001", "value": -33}, "value": -17},
      "titleAngle": -90, "titleAlign": "right", "titleBaseline": "alphabetic", "titleX": -96, "titleY": 6, "titleAnchor": "end"}},
  "color": {"field": "T", "type": "quantitative",
    "scale": {"type": "quantize", "domain": [0, 0.7554], "nice": false, "zero": false,
      "range": ["#6600ff","#3300ff","#0011ff","#0044ff","#008cff","#00bbff","#00ffff","#00ffcc","#00ff88","#00ff50","#00ff11","#22ff00","#6cff00","#99ff00","#ddff00","#ffee00","#ffaa00","#ff7700","#ff3300","#ff0000"]},
    "legend": {"type": "gradient", "orient": "none", "legendX": 1111, "legendY": 0, "direction": "vertical", "title": null,
      "gradientLength": 813, "gradientThickness": 64, "gradientStrokeWidth": 0,
      "values": [0,0.0000001,0.03779,0.07556,0.1,0.11333,0.1511,0.18887,0.2,0.22664,0.26441,0.3,0.30218,0.33995,0.37772,0.4,0.41549,0.45326,0.49103,0.5,0.5288,0.56657,0.6,0.60434,0.64211,0.67988,0.7,0.71765],
      "format": "~g", "labelExpr": "datum.value === 0 ? '' : datum.value < 0.001 ? '0' : (abs(datum.value * 10 - round(datum.value * 10)) < 0.0001 ? datum.label : '')",
      "labelFont": "Liberation Sans", "labelFontWeight": "bold", "labelFontSize": 35, "labelColor": "black", "labelOffset": 6, "labelOverlap": false, "padding": 0,
      "encode": {"labels": {"update": {"baseline": {"value": "middle"}}}}}}
 }},
{"data": {"values": [{}]}, "mark": {"type": "rect", "fillOpacity": 0, "stroke": "black", "strokeWidth": 2.5, "clip": false},
 "encoding": {"x": {"datum": 17.5, "type": "quantitative"}, "x2": {"datum": 182.5}, "y": {"datum": -0.025, "type": "quantitative"}, "y2": {"datum": 1.025}}}
]
}
